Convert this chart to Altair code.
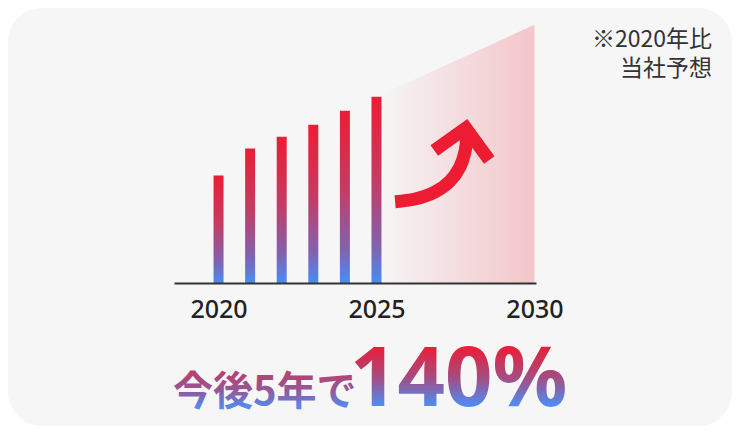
import altair as alt
import pandas as pd

# actual index (2020 = 100)
years = [2020, 2021, 2022, 2023, 2024, 2025]
index_values = [100, 125, 136, 147, 160, 173]

# forecast wedge 2025 -> 2030
forecast_years = [2025, 2030]
forecast_values = [173, 240]

# arrow shaft and head, in chart units
arrow_x = [2025.59, 2026.22, 2026.85, 2027.33, 2027.64, 2027.80, 2027.85, 2027.83]
arrow_y = [75.6, 78.1, 84.6, 94.8, 107.8, 121.7, 132.9, 144.0]
head_x = [2026.83, 2027.83, 2028.57]
head_y = [123.1, 144.0, 114.3]

tick_years = [2020, 2025, 2030]
title_lead = "今後5年で"
title_big = "140%"
note_lines = ["※2020年比", "当社予想"]

W, H = 362, 269
PAD = {"left": 166, "top": 6, "right": 196, "bottom": 143}

x_enc = alt.X(
    "year:Q",
    scale=alt.Scale(domain=[2018.59, 2030.05], nice=False, zero=False, padding=0),
    axis=alt.Axis(
        values=tick_years, format="d", title=None, grid=False,
        ticks=False, tickSize=0, labelPadding=14, zindex=1,
        labelFont="Noto Sans", labelFontSize=25, labelFontWeight=500,
        labelColor="#222222", domainColor="#333333", domainWidth=1.8,
    ),
)
y_scale = alt.Scale(domain=[0, 250], nice=False)


def grad(stops, horizontal=False):
    return alt.LinearGradient(
        gradient="linear",
        stops=[alt.GradientStop(color=c, offset=o) for o, c in stops],
        x1=0, y1=0, x2=1 if horizontal else 0, y2=0 if horizontal else 1,
    )


bar_grad = grad([(0, "#ee1c34"), (0.45, "#c53b63"), (0.8, "#8262ae"), (1, "#4a8cf5")])
area_grad = grad([(0, "#f6f6f6"), (1, "#f3c6ca")], horizontal=True)
# text gradients: offsets account for the font's ascent/descent box
big_grad = grad([(0.26, "#ec1d36"), (0.53, "#a64b7f"), (0.78, "#4f8cf3")])
lead_grad = grad([(0.24, "#b8416d"), (0.55, "#93589a"), (0.84, "#4f8cf3")])

one = pd.DataFrame({"k": [0]})

card = alt.Chart(one).mark_rect(cornerRadius=34, color="#f6f6f6").encode(
    x=alt.value(-PAD["left"]), x2=alt.value(W + PAD["right"]),
    y=alt.value(-PAD["top"]), y2=alt.value(H + PAD["bottom"]),
)

wedge = alt.Chart(pd.DataFrame({"year": forecast_years, "v": forecast_values})).mark_area(
    color=area_grad
).encode(x=x_enc, y=alt.Y("v:Q", scale=y_scale, axis=None))

bars = alt.Chart(pd.DataFrame({"year": years, "v": index_values})).mark_bar(
    size=10, color=bar_grad
).encode(x=x_enc, y=alt.Y("v:Q", scale=y_scale, axis=None))

shaft = alt.Chart(pd.DataFrame({"year": arrow_x, "v": arrow_y, "i": range(len(arrow_x))})).mark_line(
    color="#ed1c33", strokeWidth=13, strokeCap="butt", interpolate="catmull-rom"
).encode(x=x_enc, y=alt.Y("v:Q", scale=y_scale, axis=None), order="i:Q")

head = alt.Chart(pd.DataFrame({"year": head_x, "v": head_y, "i": range(len(head_x))})).mark_line(
    color="#ed1c33", strokeWidth=13, strokeCap="butt", strokeJoin="miter"
).encode(x=x_enc, y=alt.Y("v:Q", scale=y_scale, axis=None), order="i:Q")

lead = alt.Chart(pd.DataFrame({"t": [title_lead]})).mark_text(
    align="left", baseline="alphabetic", font="Noto Sans CJK JP",
    fontSize=40, fontWeight="bold", color=lead_grad,
).encode(x=alt.value(-1), y=alt.value(391), text="t:N")

big = alt.Chart(pd.DataFrame({"t": [title_big]})).mark_text(
    align="left", baseline="alphabetic", font="Noto Sans",
    fontSize=83, fontWeight="bold", color=big_grad,
).encode(x=alt.value(176), y=alt.value(392), text="t:N")

note = alt.Chart(one).mark_text(
    align="right", baseline="middle", font="Noto Sans CJK JP",
    fontSize=23, lineHeight=29, color="#333333", text=note_lines,
).encode(x=alt.value(538), y=alt.value(26))

chart = alt.layer(card, wedge, bars, shaft, head, lead, big, note).properties(
    width=W, height=H, padding=PAD, autosize="none", background="#ffffff"
).configure_view(strokeWidth=0)

chart.save("out.html", embed_options={"renderer": "svg", "actions": False})
